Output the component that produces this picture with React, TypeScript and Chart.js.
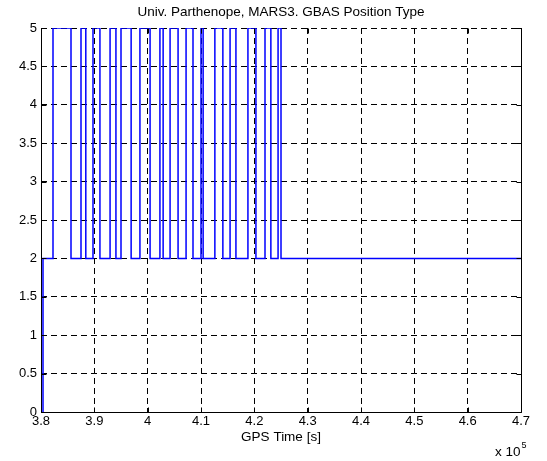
import React, { useEffect, useRef } from "react";
import { Chart, registerables } from "chart.js";

Chart.register(...registerables);

const TITLE = "Univ. Parthenope, MARS3. GBAS Position Type";
const X_LABEL = "GPS Time [s]";
const X_EXP_BASE = "x 10";
const X_EXP_POWER = "5";

// GPS time [s] at which the position type changes (step holds until next time)
const times = [
  380375, 380375, 382250, 385625, 387500, 388400, 389750, 391050, 392950, 394050,
  395000, 396900, 398550, 400450, 402300, 402900, 404200, 405700, 407200, 408500,
  410000, 410400, 412600, 414100, 415450, 416550, 418800, 420300, 422000, 423100,
  424450, 425000, 470000,
];
const positionType = [
  0, 2, 5, 2, 5, 2, 5, 2, 5, 2,
  5, 2, 5, 2, 5, 2, 5, 2, 5, 2,
  5, 2, 5, 2, 5, 2, 5, 2, 5, 2,
  5, 2, 2,
];

const xTickValues = [380000, 390000, 400000, 410000, 420000, 430000, 440000, 450000, 460000, 470000];
const xTickLabels = ["3.8", "3.9", "4", "4.1", "4.2", "4.3", "4.4", "4.5", "4.6", "4.7"];
const yTickValues = [0, 0.5, 1, 1.5, 2, 2.5, 3, 3.5, 4, 4.5, 5];
const yTickLabels = ["0", "0.5", "1", "1.5", "2", "2.5", "3", "3.5", "4", "4.5", "5"];

const FONT = '"Liberation Sans", Arial, Helvetica, sans-serif';

export default function App() {
  const ref = useRef<HTMLCanvasElement | null>(null);

  useEffect(() => {
    document.body.style.margin = "0";
    const canvas = ref.current;
    if (!canvas) return;

    const framePlugin = {
      id: "matlabFrame",
      beforeDraw(chart: any) {
        const ctx = chart.ctx;
        ctx.save();
        ctx.fillStyle = "#ffffff";
        ctx.fillRect(0, 0, chart.width, chart.height);
        ctx.restore();
      },
      afterDraw(chart: any) {
        const ctx = chart.ctx;
        const a = chart.chartArea;
        const xs = chart.scales.x;
        const ys = chart.scales.y;
        ctx.save();
        ctx.setLineDash([]);
        ctx.strokeStyle = "#000000";
        ctx.lineWidth = 1;
        const L = Math.round(a.left) + 0.5;
        const R = Math.round(a.right) + 0.5;
        const T = Math.round(a.top) + 0.5;
        const B = Math.round(a.bottom) + 0.5;
        ctx.beginPath();
        ctx.moveTo(L, T);
        ctx.lineTo(L, B);
        ctx.lineTo(R, B);
        ctx.lineTo(R, T);
        ctx.stroke();
        // inward ticks
        const tl = 5;
        ctx.beginPath();
        xTickValues.forEach((v) => {
          const px = Math.round(xs.getPixelForValue(v)) + 0.5;
          ctx.moveTo(px, B);
          ctx.lineTo(px, B - tl);
          ctx.moveTo(px, T);
          ctx.lineTo(px, T + tl);
        });
        yTickValues.forEach((v) => {
          const py = Math.round(ys.getPixelForValue(v)) + 0.5;
          ctx.moveTo(L, py);
          ctx.lineTo(L + tl, py);
          ctx.moveTo(R, py);
          ctx.lineTo(R - tl, py);
        });
        ctx.stroke();

        ctx.fillStyle = "#000000";
        ctx.textAlign = "center";
        ctx.textBaseline = "middle";
        ctx.font = `13.5px ${FONT}`;
        ctx.fillText(TITLE, (a.left + a.right) / 2, 12);
        ctx.fillText(X_LABEL, (a.left + a.right) / 2, 437);
        ctx.textAlign = "left";
        ctx.textBaseline = "alphabetic";
        ctx.font = `13.5px ${FONT}`;
        const bx = 495;
        ctx.fillText(X_EXP_BASE, bx, 456);
        const w = ctx.measureText(X_EXP_BASE).width;
        ctx.font = `9px ${FONT}`;
        ctx.fillText(X_EXP_POWER, bx + w + 1, 448);
        ctx.restore();
      },
    };

    const chart = new Chart(canvas, {
      type: "line",
      data: {
        datasets: [
          {
            data: times.map((t, i) => ({ x: t, y: positionType[i] })),
            borderColor: "#0000ff",
            backgroundColor: "#0000ff",
            borderWidth: 1.5,
            pointRadius: 0,
            stepped: "before",
            fill: false,
          } as any,
        ],
      },
      options: {
        responsive: false,
        animation: false,
        events: [],
        layout: { padding: { top: 28, right: 26, left: 0, bottom: 0 } },
        plugins: {
          legend: { display: false },
          tooltip: { enabled: false },
          title: { display: false },
        },
        scales: {
          x: {
            type: "linear",
            min: 380000,
            max: 470000,
            afterBuildTicks: (s: any) => {
              s.ticks = xTickValues.map((v) => ({ value: v }));
            },
            afterFit: (s: any) => {
              s.height = 49;
            },
            ticks: {
              autoSkip: false,
              maxRotation: 0,
              minRotation: 0,
              padding: 2,
              color: "#000000",
              font: { family: FONT, size: 13 },
              callback: (v: any) => {
                const i = xTickValues.indexOf(Number(v));
                return i >= 0 ? xTickLabels[i] : "";
              },
            },
            grid: { color: "#000000", lineWidth: 1, drawTicks: false },
            border: { display: false, dash: [6, 4] },
          },
          y: {
            type: "linear",
            min: 0,
            max: 5,
            afterBuildTicks: (s: any) => {
              s.ticks = yTickValues.map((v) => ({ value: v }));
            },
            afterFit: (s: any) => {
              s.width = 41;
            },
            ticks: {
              autoSkip: false,
              padding: 4,
              color: "#000000",
              font: { family: FONT, size: 13 },
              callback: (v: any) => {
                const i = yTickValues.indexOf(Number(v));
                return i >= 0 ? yTickLabels[i] : "";
              },
            },
            grid: { color: "#000000", lineWidth: 1, drawTicks: false },
            border: { display: false, dash: [6, 4] },
          },
        },
      } as any,
      plugins: [framePlugin],
    });

    return () => chart.destroy();
  }, []);

  return (
    <div style={{ width: 547, height: 461 }}>
      <canvas ref={ref} width={547} height={461} style={{ display: "block" }} />
    </div>
  );
}
